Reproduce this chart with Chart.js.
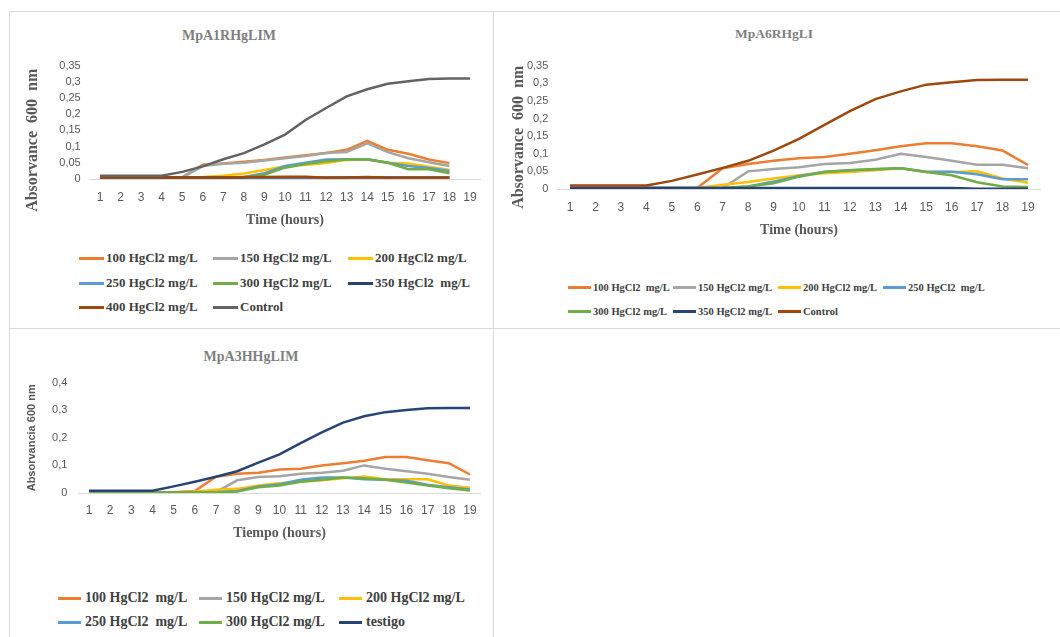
<!DOCTYPE html>
<html>
<head>
<meta charset="utf-8">
<script src="https://cdn.jsdelivr.net/npm/chart.js@4.4.1/dist/chart.umd.min.js"></script>
<style>
  html, body { margin: 0; padding: 0; background: #fff; }
  body { width: 1060px; height: 637px; position: relative; overflow: hidden; }
  .panel { position: absolute; border: 1px solid #d9d9d9; box-sizing: border-box; }
  canvas { position: absolute; }
  .ttl { position: absolute; font-family: 'Liberation Serif', 'Times New Roman', serif; font-weight: bold;
         color: #7f7f7f; white-space: nowrap; transform: translate(-50%, -50%); }
  .lg { position: absolute; height: 18px; display: flex; align-items: center;
        font-family: 'Liberation Serif', 'Times New Roman', serif; font-weight: bold;
        color: #404040; white-space: pre; }
  .lg i { display: block; height: 3px; flex: none; }
</style>
</head>
<body>
<div class="panel" style="left:9px;top:11px;width:485px;height:318px"></div>
<div class="panel" style="left:493px;top:11px;width:590px;height:318px"></div>
<div class="panel" style="left:9px;top:328px;width:485px;height:330px"></div>

<div class="ttl" style="left:229px;top:36px;font-size:14px">MpA1RHgLIM</div>
<div class="ttl" style="left:774px;top:34px;font-size:13.5px">MpA6RHgLI</div>
<div class="ttl" style="left:251px;top:357px;font-size:14px">MpA3HHgLIM</div>

<canvas id="c1" width="485" height="185" style="left:9px;top:50px"></canvas>
<canvas id="c2" width="566" height="195" style="left:494px;top:50px"></canvas>
<canvas id="c3" width="485" height="185" style="left:9px;top:365px"></canvas>

<script>
// Sampling times (hours)
const hours = ['1','2','3','4','5','6','7','8','9','10','11','12','13','14','15','16','17','18','19'];

// ---- MpA1RHgLIM : absorbance at 600 nm ----
const a1Labels = ['100 HgCl2 mg/L','150 HgCl2 mg/L','200 HgCl2 mg/L','250 HgCl2 mg/L',
                  '300 HgCl2 mg/L','350 HgCl2  mg/L','400 HgCl2 mg/L','Control'];
const a1_100 = [0.005,0.005,0.005,0.005,0.005,0.044,0.048,0.053,0.059,0.066,0.073,0.080,0.090,0.118,0.090,0.078,0.060,0.049];
const a1_150 = [0.005,0.005,0.005,0.005,0.005,0.040,0.047,0.050,0.057,0.064,0.071,0.080,0.083,0.110,0.083,0.064,0.052,0.040];
const a1_200 = [0.005,0.005,0.005,0.005,0.005,0.006,0.010,0.017,0.028,0.039,0.044,0.049,0.059,0.060,0.050,0.048,0.038,0.028];
const a1_250 = [0.005,0.005,0.005,0.005,0.005,0.005,0.005,0.006,0.018,0.040,0.050,0.060,0.061,0.061,0.050,0.040,0.034,0.025];
const a1_300 = [0.005,0.005,0.005,0.005,0.005,0.005,0.005,0.005,0.013,0.035,0.046,0.055,0.060,0.061,0.050,0.030,0.030,0.018];
const a1_350 = [0.005,0.005,0.005,0.005,0.005,0.005,0.005,0.005,0.005,0.005,0.005,0.005,0.005,0.005,0.005,0.005,0.005,0.005];
const a1_400 = [0.005,0.005,0.005,0.005,0.005,0.005,0.005,0.006,0.006,0.007,0.007,0.004,0.005,0.006,0.004,0.004,0.004,0.004];
const a1_ctl = [0.010,0.010,0.010,0.010,0.022,0.039,0.061,0.080,0.107,0.137,0.182,0.219,0.255,0.277,0.294,0.302,0.309,0.310,0.310];

// ---- MpA6RHgLI ----
const a6Labels = ['100 HgCl2  mg/L','150 HgCl2 mg/L','200 HgCl2 mg/L','250 HgCl2  mg/L',
                  '300 HgCl2 mg/L','350 HgCl2 mg/L','Control'];
const a6_100 = [0.003,0.003,0.003,0.003,0.003,0.003,0.059,0.071,0.080,0.087,0.091,0.100,0.110,0.121,0.130,0.130,0.121,0.109,0.068];
const a6_150 = [0.003,0.003,0.003,0.003,0.003,0.003,0.003,0.050,0.057,0.062,0.071,0.074,0.083,0.100,0.091,0.080,0.069,0.069,0.059];
const a6_200 = [0.003,0.003,0.003,0.003,0.003,0.003,0.012,0.020,0.030,0.039,0.045,0.048,0.053,0.059,0.048,0.048,0.050,0.030,0.018];
const a6_250 = [0.003,0.003,0.003,0.003,0.003,0.003,0.003,0.007,0.021,0.037,0.049,0.053,0.056,0.059,0.049,0.049,0.042,0.028,0.028];
const a6_300 = [0.003,0.003,0.003,0.003,0.003,0.003,0.003,0.007,0.016,0.035,0.048,0.053,0.057,0.059,0.048,0.039,0.019,0.007,0.006];
const a6_350 = [0.003,0.003,0.003,0.003,0.003,0.003,0.003,0.003,0.003,0.003,0.003,0.003,0.003,0.003,0.003,0.003,0.001,0.001,0.001];
const a6_ctl = [0.010,0.010,0.010,0.010,0.023,0.041,0.060,0.080,0.109,0.142,0.182,0.221,0.255,0.277,0.296,0.303,0.309,0.310,0.310];

// ---- MpA3HHgLIM ----
const a3Labels = ['100 HgCl2  mg/L','150 HgCl2 mg/L','200 HgCl2 mg/L','250 HgCl2  mg/L',
                  '300 HgCl2 mg/L','testigo'];
const a3_100 = [0.003,0.003,0.003,0.003,0.003,0.007,0.059,0.070,0.073,0.085,0.088,0.100,0.108,0.117,0.130,0.130,0.119,0.108,0.067];
const a3_150 = [0.003,0.003,0.003,0.003,0.003,0.003,0.003,0.046,0.058,0.061,0.070,0.073,0.081,0.100,0.088,0.079,0.070,0.058,0.048];
const a3_200 = [0.003,0.003,0.003,0.003,0.003,0.005,0.012,0.015,0.027,0.035,0.041,0.046,0.053,0.060,0.050,0.050,0.050,0.027,0.019];
const a3_250 = [0.003,0.003,0.003,0.003,0.003,0.003,0.003,0.007,0.024,0.032,0.048,0.056,0.056,0.050,0.048,0.044,0.030,0.021,0.013];
const a3_300 = [0.003,0.003,0.003,0.003,0.003,0.003,0.003,0.005,0.021,0.027,0.041,0.048,0.056,0.053,0.048,0.038,0.027,0.017,0.009];
const a3_ctl = [0.008,0.008,0.008,0.008,0.024,0.041,0.059,0.079,0.110,0.140,0.181,0.220,0.255,0.278,0.293,0.301,0.307,0.308,0.308];

// Line colours
const C_ORANGE = '#ED7D31', C_GREY = '#A5A5A5', C_GOLD = '#FFC000', C_BLUE = '#5B9BD5',
      C_GREEN = '#70AD47', C_NAVY = '#264478', C_BROWN = '#9E480E', C_DARK = '#636363';

const TICK_FONT = { family: "'Liberation Sans', Arial, sans-serif", size: 11 };
const SERIF = "'Liberation Serif', 'Times New Roman', serif";

function makeDatasets(labels, series, colors) {
  const n = series.length;
  return series.map((data, i) => ({
    label: labels[i],
    data: data,
    borderColor: colors[i],
    backgroundColor: colors[i],
    borderWidth: 2.5,
    pointRadius: 0,
    tension: 0,
    order: n - i            // later series are painted on top
  }));
}

function fmt(v) {
  return String(Math.round(v * 100) / 100).replace('.', ',');
}

function buildChart(id, datasets, cfg) {
  return new Chart(document.getElementById(id), {
    type: 'line',
    data: { labels: hours, datasets: datasets },
    options: {
      responsive: false,
      animation: false,
      devicePixelRatio: 1,
      layout: { padding: { left: 0, right: cfg.padRight, top: cfg.padTop, bottom: 0 } },
      plugins: { legend: { display: false }, title: { display: false }, tooltip: { enabled: false } },
      scales: {
        x: {
          offset: true,
          grid: { display: false, drawTicks: false },
          border: { display: true, color: '#d9d9d9', width: 1 },
          ticks: { autoSkip: false, maxRotation: 0, padding: cfg.xTickPad, color: '#595959',
                   font: { family: TICK_FONT.family, size: 12 } },
          title: { display: true, text: cfg.xTitle, color: '#595959',
                   font: { family: SERIF, size: 14, weight: 'bold', lineHeight: 1.2 },
                   padding: { top: 0, bottom: cfg.xTitlePad } },
          afterFit: s => { s.height = cfg.xHeight; }
        },
        y: {
          min: 0, max: cfg.yMax,
          grid: { display: false, drawTicks: false },
          border: { display: false },
          ticks: { stepSize: cfg.yStep, padding: cfg.yTickPad, color: '#595959', font: TICK_FONT,
                   callback: v => fmt(v) },
          title: { display: true, text: cfg.yTitle, color: '#595959',
                   font: cfg.yTitleFont, padding: { top: cfg.yTitlePad, bottom: 0 } },
          afterFit: s => { s.width = cfg.yWidth; }
        }
      }
    }
  });
}

function addLegend(chart, layout) {
  chart.data.datasets.forEach((ds, i) => {
    const row = Math.floor(i / layout.perRow), col = i % layout.perRow;
    const el = document.createElement('div');
    el.className = 'lg';
    el.style.left = layout.cols[col] + 'px';
    el.style.top = (layout.rows[row] - 9) + 'px';
    el.style.fontSize = layout.fontSize + 'px';
    const sw = document.createElement('i');
    sw.style.width = layout.swatch + 'px';
    sw.style.marginRight = layout.gap + 'px';
    sw.style.background = ds.borderColor;
    const tx = document.createElement('span');
    tx.textContent = ds.label;
    el.appendChild(sw);
    el.appendChild(tx);
    document.body.appendChild(el);
  });
}

const ch1 = buildChart('c1',
  makeDatasets(a1Labels, [a1_100, a1_150, a1_200, a1_250, a1_300, a1_350, a1_400, a1_ctl],
               [C_ORANGE, C_GREY, C_GOLD, C_BLUE, C_GREEN, C_NAVY, C_BROWN, C_DARK]),
  { padRight: 13.7, padTop: 10, yWidth: 80.7, xHeight: 56, yMax: 0.35, yStep: 0.05,
    xTickPad: 11, yTickPad: 9, xTitle: 'Time (hours)', xTitlePad: 6.6,
    yTitle: 'Absorvance  600  nm         ', yTitlePad: 14.4,
    yTitleFont: { family: SERIF, size: 16, weight: 'bold', lineHeight: 1.2 } });

const ch2 = buildChart('c2',
  makeDatasets(a6Labels, [a6_100, a6_150, a6_200, a6_250, a6_300, a6_350, a6_ctl],
               [C_ORANGE, C_GREY, C_GOLD, C_BLUE, C_GREEN, C_NAVY, C_BROWN]),
  { padRight: 19.3, padTop: 10, yWidth: 63.3, xHeight: 56, yMax: 0.35, yStep: 0.05,
    xTickPad: 11, yTickPad: 9, xTitle: 'Time (hours)', xTitlePad: 6.6,
    yTitle: 'Absorvance  600  nm     ', yTitlePad: 14.9,
    yTitleFont: { family: SERIF, size: 16, weight: 'bold', lineHeight: 1.2 } });

const ch3 = buildChart('c3',
  makeDatasets(a3Labels, [a3_100, a3_150, a3_200, a3_250, a3_300, a3_ctl],
               [C_ORANGE, C_GREY, C_GOLD, C_BLUE, C_GREEN, C_NAVY]),
  { padRight: 13.4, padTop: 13, yWidth: 69.4, xHeight: 57, yMax: 0.4, yStep: 0.1,
    xTickPad: 10, yTickPad: 11, xTitle: 'Tiempo (hours)', xTitlePad: 8.6,
    yTitle: 'Absorvancia 600 nm', yTitlePad: 16.4,
    yTitleFont: { family: "'Liberation Sans', Arial, sans-serif", size: 11, weight: 'bold', lineHeight: 1.2 } });

addLegend(ch1, { cols: [79, 213, 348], rows: [258, 283, 307], perRow: 3, fontSize: 13, swatch: 25, gap: 2 });
addLegend(ch2, { cols: [568, 673, 778, 883], rows: [287, 311], perRow: 4, fontSize: 10.5, swatch: 23, gap: 2 });
addLegend(ch3, { cols: [58, 199, 339], rows: [598, 622], perRow: 3, fontSize: 14, swatch: 23, gap: 4 });
</script>
</body>
</html>
